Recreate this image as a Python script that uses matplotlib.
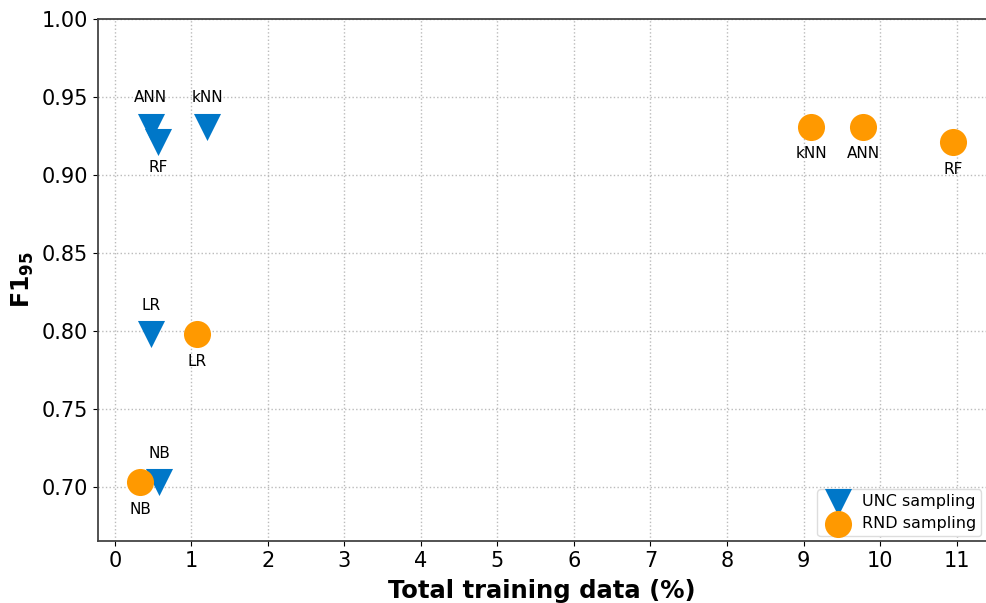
import matplotlib
matplotlib.use("Agg")
import matplotlib.pyplot as plt

# data
models = ["ANN", "kNN", "RF", "LR", "NB"]
unc_x = [0.47, 1.21, 0.57, 0.47, 0.58]
unc_y = [0.931, 0.931, 0.921, 0.798, 0.703]
rnd_x = [9.78, 9.10, 10.95, 1.08, 0.33]
rnd_y = [0.931, 0.931, 0.921, 0.798, 0.703]
unc_label_dy = [29, 29, -25, 29, 29]   # px, positive = above
rnd_label_dy = [-27, -27, -27, -27, -27]

blue = "#0077c8"
orange = "#ff9900"

fig = plt.figure(figsize=(9.86, 6.03), dpi=100)
ax = fig.add_axes([0.0994, 0.1028, 0.9006, 0.8657])

ax.scatter(unc_x, unc_y, marker="v", s=380, color=blue, label="UNC sampling", zorder=3, linewidths=0)
ax.scatter(rnd_x, rnd_y, marker="o", s=380, color=orange, label="RND sampling", zorder=3, linewidths=0)

for m, x, y, dy in zip(models, unc_x, unc_y, unc_label_dy):
    ax.annotate(m, (x, y), xytext=(0, dy * 0.72), textcoords="offset points",
                ha="center", va="center", fontsize=11)
for m, x, y, dy in zip(models, rnd_x, rnd_y, rnd_label_dy):
    ax.annotate(m, (x, y), xytext=(0, dy * 0.72), textcoords="offset points",
                ha="center", va="center", fontsize=11)

ax.set_xlim(-0.22, 11.385)
ax.set_ylim(0.6654, 1.0)
ax.set_xticks(range(0, 12))
ax.set_yticks([0.70, 0.75, 0.80, 0.85, 0.90, 0.95, 1.00])
ax.tick_params(labelsize=15, direction="out")
ax.grid(True, linestyle=":", color="#bbbbbb", linewidth=1)
ax.set_axisbelow(True)
ax.spines["right"].set_visible(False)
for s in ["left", "bottom", "top"]:
    ax.spines[s].set_color("#444444")
    ax.spines[s].set_linewidth(1.3)

ax.set_xlabel("Total training data (%)", fontsize=17.5, fontweight="bold", labelpad=6)
ax.set_ylabel(r"$\mathbf{F1_{95}}$", fontsize=17, labelpad=4)

ax.legend(loc="lower right", fontsize=11.5, labelspacing=0.45, handletextpad=0.5,
          borderpad=0.3, borderaxespad=0.3, framealpha=1, edgecolor="#dddddd")

fig.savefig("out.png", dpi=100)
